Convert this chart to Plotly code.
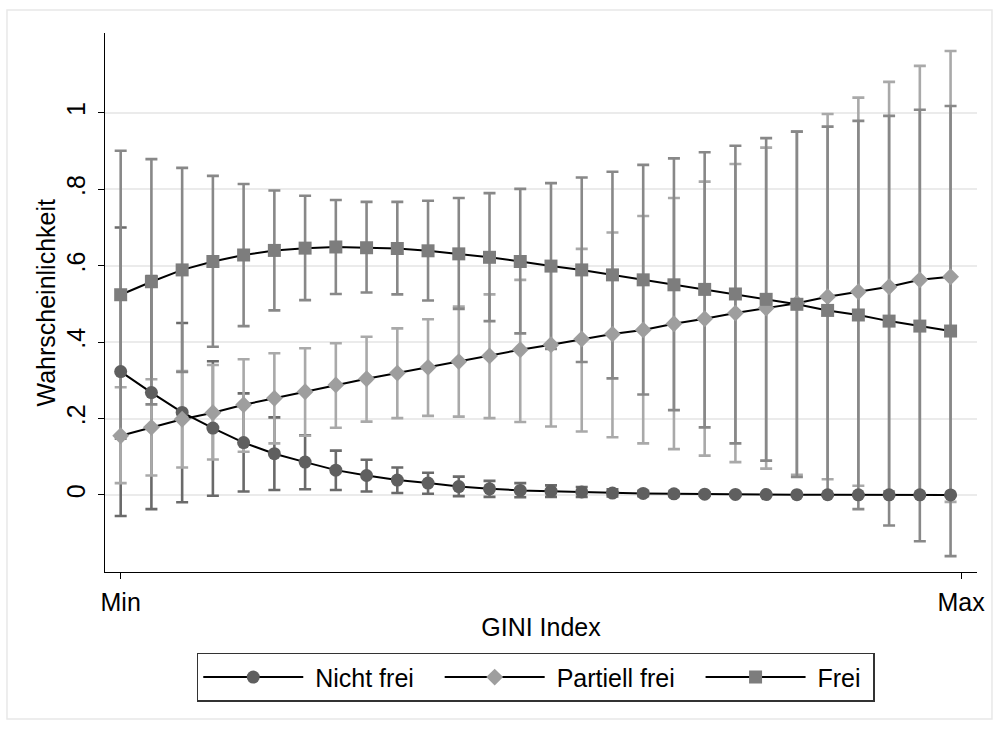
import plotly.graph_objects as go

# ---------------- data ----------------
steps = [0, 1, 2, 3, 4, 5, 6, 7, 8, 9, 10, 11, 12, 13,
         14, 15, 16, 17, 18, 19, 20, 21, 22, 23, 24, 25, 26, 27]

x_tick_vals = [0, 27.34]
x_tick_text = ["Min", "Max"]
y_tick_vals = [0, 0.2, 0.4, 0.6, 0.8, 1.0]
y_tick_text = ["0", ".2", ".4", ".6", ".8", "1"]

series_names = ["Nicht frei", "Partiell frei", "Frei"]

nicht_frei = [0.323, 0.268, 0.216, 0.175, 0.137, 0.108, 0.086, 0.065, 0.051, 0.039,
              0.031, 0.022, 0.016, 0.012, 0.010, 0.008, 0.005, 0.004, 0.003, 0.002,
              0.0015, 0.001, 0.0008, 0.0006, 0.0005, 0.0004, 0.0003, 0.0002]
nicht_frei_lo = [-0.055, -0.037, -0.019, -0.002, 0.009, 0.013, 0.015, 0.013, 0.009, 0.005,
                 0.003, -0.003, -0.005, -0.006, -0.005, -0.005, -0.004, -0.003, -0.003, -0.002,
                 -0.002, -0.001, -0.001, -0.001, -0.001, -0.001, -0.001, -0.001]
nicht_frei_hi = [0.700, 0.573, 0.450, 0.350, 0.266, 0.203, 0.156, 0.116, 0.092, 0.072,
                 0.058, 0.048, 0.037, 0.031, 0.025, 0.021, 0.015, 0.011, 0.008, 0.006,
                 0.005, 0.003, 0.002, 0.002, 0.002, 0.001, 0.001, 0.001]

partiell = [0.155, 0.177, 0.198, 0.215, 0.236, 0.253, 0.270, 0.288, 0.304, 0.319,
            0.334, 0.349, 0.364, 0.380, 0.393, 0.408, 0.421, 0.432, 0.448, 0.461,
            0.476, 0.489, 0.502, 0.519, 0.532, 0.545, 0.563, 0.571]
partiell_lo = [0.031, 0.051, 0.072, 0.093, 0.113, 0.135, 0.155, 0.176, 0.192, 0.201,
               0.207, 0.205, 0.201, 0.191, 0.179, 0.166, 0.151, 0.135, 0.120, 0.103,
               0.086, 0.069, 0.053, 0.041, 0.024, 0.009, 0.003, -0.018]
partiell_hi = [0.282, 0.303, 0.324, 0.340, 0.355, 0.371, 0.384, 0.397, 0.414, 0.436,
               0.460, 0.493, 0.525, 0.563, 0.603, 0.644, 0.687, 0.730, 0.777, 0.820,
               0.866, 0.909, 0.951, 0.997, 1.040, 1.081, 1.123, 1.162]

frei = [0.524, 0.558, 0.589, 0.611, 0.628, 0.640, 0.646, 0.649, 0.647, 0.645,
        0.639, 0.631, 0.622, 0.611, 0.599, 0.589, 0.576, 0.563, 0.550, 0.538,
        0.526, 0.512, 0.499, 0.483, 0.471, 0.455, 0.442, 0.429]
frei_lo = [0.147, 0.237, 0.322, 0.388, 0.442, 0.483, 0.510, 0.526, 0.530, 0.525,
           0.509, 0.487, 0.455, 0.423, 0.382, 0.348, 0.305, 0.263, 0.222, 0.177,
           0.135, 0.090, 0.047, 0.002, -0.037, -0.080, -0.121, -0.160]
frei_hi = [0.901, 0.879, 0.856, 0.835, 0.814, 0.797, 0.783, 0.772, 0.767, 0.767,
           0.770, 0.777, 0.790, 0.801, 0.816, 0.831, 0.846, 0.864, 0.881, 0.897,
           0.914, 0.934, 0.951, 0.964, 0.979, 0.992, 1.008, 1.018]

# ---------------- styling ----------------
FONT = "Liberation Sans, Arial, sans-serif"
FS = 25
marker_colors = ["#5f5f5f", "#9e9e9e", "#7d7d7d"]
bar_colors = ["#6a6a6a", "#a9a9a9", "#888888"]
symbols = ["circle", "diamond", "square"]
sizes = [13, 13, 13]
# non-breaking-space padding to reproduce the legend's spacing
NB = "\u00a0"
legend_labels = [NB + series_names[0] + NB * 3,
                 NB + series_names[1] + NB * 3,
                 NB + series_names[2] + NB]

values = [nicht_frei, partiell, frei]
lows = [nicht_frei_lo, partiell_lo, frei_lo]
highs = [nicht_frei_hi, partiell_hi, frei_hi]

fig = go.Figure()

# confidence intervals first (beneath the lines)
for name, v, lo, hi, bc in zip(series_names, values, lows, highs, bar_colors):
    fig.add_trace(go.Scatter(
        x=steps, y=v, mode="markers",
        marker=dict(size=1, color="rgba(0,0,0,0)"),
        error_y=dict(type="data", symmetric=False,
                     array=[h - c for h, c in zip(hi, v)],
                     arrayminus=[c - l for c, l in zip(v, lo)],
                     color=bc, thickness=2.6, width=6),
        showlegend=False, hoverinfo="skip"))

# connected lines with markers
for label, v, mc, sym, sz in zip(legend_labels, values, marker_colors, symbols, sizes):
    fig.add_trace(go.Scatter(
        x=steps, y=v, mode="lines+markers", name=label,
        line=dict(color="black", width=2),
        marker=dict(symbol=sym, size=sz, color=mc, line=dict(width=0))))

axis_font = dict(family=FONT, size=FS, color="black")

fig.update_layout(
    width=999, height=729,
    margin=dict(l=105, r=22, t=33, b=157),
    paper_bgcolor="white", plot_bgcolor="white",
    font=dict(family=FONT, size=FS, color="black"),
    xaxis=dict(range=[-0.51, 27.86], tickvals=x_tick_vals, ticktext=x_tick_text,
               showgrid=False, zeroline=False, showline=True, linecolor="black",
               linewidth=1.3, ticks="outside", ticklen=6, tickwidth=1.3,
               tickcolor="black", tickfont=axis_font, ticklabelstandoff=2,
               title=dict(text="GINI Index", font=axis_font, standoff=3)),
    yaxis=dict(range=[-0.2016, 1.209], tickvals=y_tick_vals, ticktext=y_tick_text,
               tickangle=-90, showgrid=True, gridcolor="#ebebeb", gridwidth=2,
               zeroline=False, showline=True, linecolor="black", linewidth=1.3,
               ticks="outside", ticklen=6, tickwidth=1.3, tickcolor="black",
               tickfont=axis_font, ticklabelstandoff=3),
    legend=dict(orientation="h", x=0.494, xanchor="center", y=-0.15, yanchor="top",
                bordercolor="#333333", borderwidth=1.5, font=dict(family=FONT, size=FS),
                itemwidth=100, bgcolor="white"),
    annotations=[dict(text="Wahrscheinlichkeit", textangle=-90, xref="paper", yref="paper",
                      x=-0.0688, y=0.5, xanchor="center", yanchor="middle",
                      showarrow=False, font=axis_font)],
    shapes=[dict(type="rect", xref="paper", yref="paper",
                 x0=-0.1124, x1=1.0172, y0=-0.2727, y1=1.0427,
                 line=dict(color="#e8e8e8", width=1.5), layer="below")],
)

fig.write_html("out.html")
